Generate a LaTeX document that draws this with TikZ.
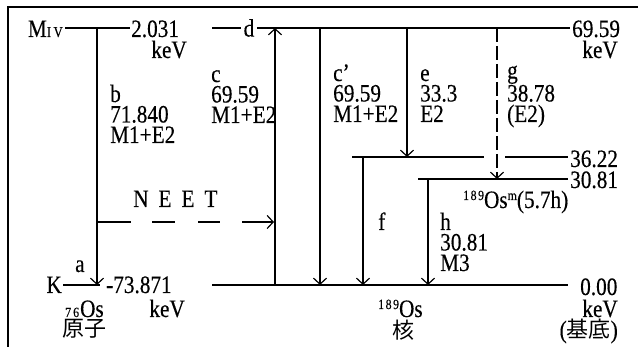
\documentclass[tikz,border=0pt]{standalone}
\usepackage{fontspec}
\setmainfont{Liberation Serif}[FakeStretch=0.85,FakeBold=0.3]
\newfontfamily\jfont{Noto Sans CJK JP}
\usetikzlibrary{arrows.meta}

\tikzset{
  lvl/.style={line width=1.2pt},
  tr/.style={line width=1.2pt,-{Straight Barb[length=6pt,width=13pt]}},
  txt/.style={inner sep=0pt,font=\fontsize{25}{20.5}\selectfont},
  lab/.style={txt,align=left,anchor=base west},
}
\newcommand{\smalldig}[1]{{\fontsize{14}{14}\selectfont #1}}
\newcommand{\kanji}[1]{{\jfont\fontsize{22}{22}\selectfont #1}}

\begin{document}
\begin{tikzpicture}[x=1pt,y=-1pt]
\useasboundingbox (0,0) rectangle (638,347);
\draw[line width=1.6pt] (8,347) -- (8,7) -- (638,7);

% atomic shells
\coordinate (mA) at (65,28);
\coordinate (mB) at (130,28);
\coordinate (kA) at (63,285);
\coordinate (kB) at (100,285);
\draw[lvl] (mA) -- (mB);
\draw[lvl] (kA) -- (kB);
\node[txt,anchor=base east] (mlab) at (63,37) {M{\fontsize{15}{15}\selectfont I\,V}};
\node[txt,anchor=base west] (mval) at (131,37) {2.031};
\node[txt,anchor=base east] (mkev) at (187,58) {keV};
\node[txt,anchor=base east] (klab) at (62,293) {K};
\node[txt,anchor=base west] (kval) at (106,293) {-73.871};
\node[txt,anchor=base east] (kkev) at (185,317) {keV};
\node[txt,anchor=base west] (atom) at (65,317) {\smalldig{7\kern2pt 6}\kern1pt Os};
\node[txt,anchor=base west] (atomj) at (62,337) {\kanji{原子}};

% nuclear levels
\coordinate (tA) at (212,28);
\coordinate (tB) at (570,28);
\coordinate (sA) at (352,157);
\coordinate (sB) at (484,157);
\coordinate (sC) at (505,157);
\coordinate (sD) at (568,157);
\coordinate (iA) at (418,179);
\coordinate (iB) at (568,179);
\coordinate (gA) at (212,285);
\coordinate (gB) at (568,285);
\draw[lvl] (tA) -- (tB);
\draw[lvl] (sA) -- (sB);
\draw[lvl] (sC) -- (sD);
\draw[lvl] (iA) -- (iB);
\draw[lvl] (gA) -- (gB);
\node[txt,fill=white,inner xsep=3pt] (d) at (249,28) {d};
\node[txt,anchor=base west] (tval) at (572,37) {69.59};
\node[txt,anchor=base east] (tkev) at (618,58) {keV};
\node[txt,anchor=base west] (sval) at (570,167) {36.22};
\node[txt,anchor=base west] (ival) at (570,188) {30.81};
\node[txt,anchor=base west] (ilab) at (463,208) {\raisebox{8pt}{\smalldig{1\kern1.5pt 8\kern1.5pt 9}}Os\raisebox{8pt}{\smalldig{m}}(5.7h)};
\node[txt,anchor=base west] (gval) at (580,295) {0.00};
\node[txt,anchor=base east] (gkev) at (618,317) {keV};
\node[txt,anchor=base east] (gbase) at (618,338) {(\kanji{基底})};
\node[txt,anchor=base west] (nuc) at (378,317) {\raisebox{8pt}{\smalldig{1\kern1.5pt 8\kern1.5pt 9}}Os};
\node[txt,anchor=base west] (nucj) at (392,339) {\kanji{核}};

% transitions
\coordinate (b1) at (97,28);   \coordinate (b2) at (97,285);
\coordinate (c1) at (275,285); \coordinate (c2) at (275,28);
\coordinate (n1) at (97,222);  \coordinate (n2) at (274,222);
\coordinate (p1) at (320,28);  \coordinate (p2) at (320,285);
\coordinate (e1) at (407,28);  \coordinate (e2) at (407,157);
\coordinate (g1) at (497,28);  \coordinate (g2) at (497,179);
\coordinate (f1) at (363,157); \coordinate (f2) at (363,285);
\coordinate (h1) at (428,179); \coordinate (h2) at (428,285);
\draw[tr] (b1) -- (b2);
\draw[tr] (c1) -- (c2);
\draw[tr,dash pattern=on 34pt off 21pt on 23pt off 23pt on 22pt off 22pt on 40pt] (n1) -- (n2);
\draw[tr] (p1) -- (p2);
\draw[tr] (e1) -- (e2);
\draw[tr,dash pattern=on 14pt off 4pt] (g1) -- (g2);
\draw[tr] (f1) -- (f2);
\draw[tr] (h1) -- (h2);

% labels (base = last line)
\node[lab] (alab) at (75,272) {a};
\node[lab] (blab) at (110,143) {b\\71.840\\M1+E2};
\node[lab] (clab) at (211,123) {c\\69.59\\M1+E2};
\node[lab] (plab) at (333,122) {c'\\69.59\\M1+E2};
\node[lab] (elab) at (420,122) {e\\33.3\\E2};
\node[lab] (glab) at (507,122) {g\\38.78\\(E2)};
\node[lab] (flab) at (378,230) {f};
\node[lab] (hlab) at (440,271) {h\\30.81\\M3};
\node[txt,anchor=base west] (neet) at (133,207) {N\hspace{10pt}E\hspace{10pt}E\hspace{10pt}T};
\end{tikzpicture}
\end{document}
